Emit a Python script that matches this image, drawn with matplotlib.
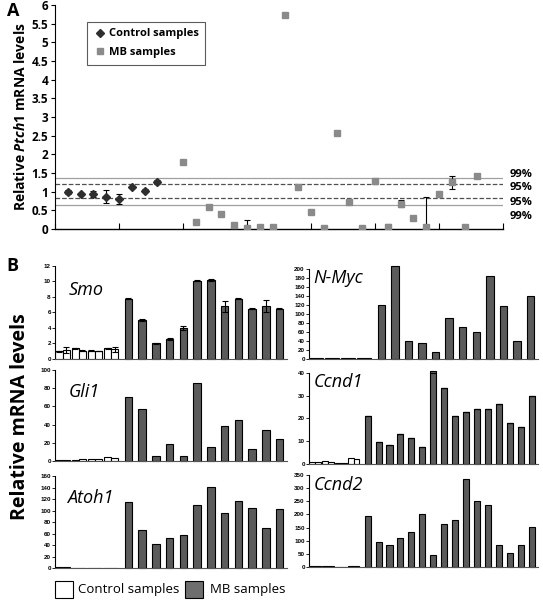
import numpy as np
import matplotlib.pyplot as plt
from matplotlib.lines import Line2D
from matplotlib.patches import Rectangle
import matplotlib.transforms as mtransforms

plt.rcParams['font.family'] = ['Open Sans', 'DejaVu Sans']
plt.rcParams['mathtext.fontset'] = 'custom'
plt.rcParams['mathtext.rm'] = 'Open Sans:bold'
plt.rcParams['mathtext.it'] = 'Open Sans:italic:bold'

# ---- panel A data (Ptch1) ----
ctrl_x = np.arange(1, 9)
ctrl_vals = [1.00, 0.94, 0.94, 0.87, 0.81, 1.13, 1.03, 1.26]
ctrl_err = [0.05, 0.03, 0.07, 0.18, 0.13, 0.03, 0.03, 0.05]

mb_x = np.arange(10, 34)
mb_vals = [1.80, 0.18, 0.60, 0.40, 0.10, 0.03, 0.05, 0.05, 5.74, 1.13, 0.46, 0.02,
           2.58, 0.72, 0.02, 1.28, 0.05, 0.68, 0.29, 0.05, 0.94, 1.25, 0.05, 1.42]
mb_err = [0.03, 0.02, 0.03, 0.03, 0.04, 0.20, 0.02, 0.02, 0.03, 0.02, 0.02, 0.07,
          0.03, 0.03, 0.07, 0.02, 0.08, 0.10, 0.02, 0.82, 0.02, 0.18, 0.02, 0.02]

ci_vals = [1.38, 1.21, 0.82, 0.64]
ci_labels = ['99%', '95%', '95%', '99%']

# ---- panel B data ----
genes = ['Smo', 'Gli1', 'Atoh1', 'N-Myc', 'Ccnd1', 'Ccnd2']
smo_ctrl = [1.0, 1.15, 1.38, 1.05, 1.05, 1.03, 1.38, 1.25]
smo_ctrl_err = [0.05, 0.4, 0.05, 0.05, 0.05, 0.05, 0.05, 0.3]
smo_mb = [7.8, 5.0, 2.0, 2.6, 4.0, 10.1, 10.2, 6.8, 7.8, 6.5, 6.8, 6.5]
smo_mb_err = [0.1, 0.1, 0.1, 0.1, 0.3, 0.05, 0.15, 0.7, 0.05, 0.05, 0.8, 0.05]
gli1_ctrl = [1.5, 0.8, 1.5, 1.8, 1.8, 1.8, 4.8, 3.3]
gli1_mb = [70, 57, 6, 19, 5, 86, 15, 38, 45, 13, 34, 24]
atoh1_ctrl = [1.2, 1.0, 0.5, 0.5, 0.5, 0.5, 0.6, 0.6]
atoh1_mb = [115, 66, 42, 52, 58, 110, 141, 95, 116, 104, 70, 103]
nmyc_ctrl = [2, 2, 1.5, 1.5, 1.5, 1.5, 2, 2]
nmyc_mb = [120, 206, 40, 35, 15, 92, 70, 60, 185, 118, 40, 140]
ccnd1_ctrl = [1.0, 0.8, 1.5, 0.8, 0.6, 0.6, 2.5, 2.0]
ccnd1_mb = [21, 9.7, 8.2, 13, 11.5, 7.3, 41, 33.3, 21, 23, 24.3, 24.3, 26.2, 18.2, 16.2, 29.7]
ccnd1_mb_err = [0, 0, 0, 0, 0, 0, 1.0, 0, 0, 0, 0, 0, 0, 0, 0, 0]
ccnd2_ctrl = [3, 3, 2, 2, 1, 1, 3, 3]
ccnd2_mb = [195, 97, 85, 112, 133, 200, 45, 162, 178, 335, 250, 237, 82, 55, 85, 152]

fig = plt.figure(figsize=(5.43, 6.0), dpi=100)

# ================= Panel A =================
axA = fig.add_axes([0.1013, 0.6183, 0.825, 0.3733])
axA.set_xlim(0, 35)
axA.set_ylim(0, 6)
ci_styles = ['-', '--', '--', '-']
ci_colors = ['#a0a0a0', '#505050', '#505050', '#a0a0a0']
for v, ls, c in zip(ci_vals, ci_styles, ci_colors):
    axA.axhline(v, color=c, linestyle=ls, linewidth=0.9, zorder=1)
trans = mtransforms.blended_transform_factory(axA.transAxes, axA.transData)
label_y = [1.45, 1.10, 0.70, 0.33]
for y, lab in zip(label_y, ci_labels):
    axA.text(1.015, y, lab, transform=trans, fontsize=8, fontweight='bold', va='center', ha='left')

axA.errorbar(ctrl_x, ctrl_vals, yerr=ctrl_err, fmt='D', color='#2f2f2f', ms=4,
             ecolor='black', elinewidth=0.8, capsize=2.5, capthick=0.8, zorder=3)
axA.errorbar(mb_x, mb_vals, yerr=mb_err, fmt='s', color='#8a8a8a', ms=4.5,
             ecolor='black', elinewidth=0.8, capsize=2.5, capthick=0.8, zorder=3)

axA.set_yticks(np.arange(0, 6.01, 0.5))
axA.set_yticklabels(['0', '0.5', '1', '1.5', '2', '2.5', '3', '3.5', '4', '4.5', '5', '5.5', '6'])
axA.set_xticks(np.arange(0, 36, 5))
axA.set_xticklabels([])
axA.tick_params(axis='y', labelsize=8.5, length=3, width=0.8, pad=2)
axA.tick_params(axis='x', direction='in', length=4, width=0.8)
for lab in axA.get_yticklabels():
    lab.set_fontweight('bold')
axA.spines[['top', 'right']].set_visible(False)
axA.spines['bottom'].set_linewidth(1.0)
axA.spines['left'].set_linewidth(0.8)

handles = [Line2D([], [], marker='D', color='#2f2f2f', ls='none', ms=4),
           Line2D([], [], marker='s', color='#8a8a8a', ls='none', ms=4.5)]
leg = axA.legend(handles, ['Control samples', 'MB samples'], loc='upper left',
                 bbox_to_anchor=(0.06, 0.95), frameon=True, fancybox=False,
                 edgecolor='#333333', prop={'weight': 'bold', 'size': 8},
                 handletextpad=0.3, handlelength=1.0, borderpad=0.6, labelspacing=0.7)
leg.get_frame().set_linewidth(0.8)

fig.text(0.038, 0.806, r'Relative $\mathit{Ptch1}$ mRNA levels', rotation=90,
         fontsize=10, fontweight='bold', ha='center', va='center')
fig.text(0.012, 0.997, 'A', fontsize=13, fontweight='bold', ha='left', va='top')

# ================= Panel B =================
def bar_panel(rect, gene, ctrl, mb, ymax, ystep, gx, gy, ctrl_err=None, mb_err=None):
    ax = fig.add_axes(rect)
    n = len(mb)
    k = np.arange(len(ctrl))
    cx = 0.55 + 1.18 * (k // 2) + np.where(k % 2 == 0, -0.26, 0.26)
    mx = 5.35 + np.arange(n)
    ekw = dict(elinewidth=0.8, capthick=0.8, ecolor='black')
    ax.bar(cx, ctrl, width=0.52, color='white', edgecolor='black', linewidth=0.8,
           yerr=ctrl_err, capsize=2, error_kw=ekw)
    ax.bar(mx, mb, width=0.55, color='#5b5b5b', edgecolor='black', linewidth=0.8,
           yerr=mb_err, capsize=2.5, error_kw=ekw, clip_on=False)
    ax.set_xlim(0, n + 4.9)
    ax.set_ylim(0, ymax)
    ax.set_yticks(np.arange(0, ymax + 0.1, ystep))
    ax.set_xticks([])
    ax.tick_params(axis='y', labelsize=4.5, length=2, width=0.6, pad=1)
    for lab in ax.get_yticklabels():
        lab.set_fontweight('bold')
        lab.set_family('Liberation Sans')
    ax.spines[['top', 'right']].set_visible(False)
    ax.spines['bottom'].set_color('#555555')
    ax.spines['left'].set_linewidth(0.8)
    ax.text(gx, gy, gene, transform=ax.transAxes, fontsize=13, fontstyle='italic',
            ha='left', va='center')
    return ax

bar_panel([0.1013, 0.4017, 0.4273, 0.155], genes[0], smo_ctrl, smo_mb, 12, 2, 0.06, 0.74,
          ctrl_err=smo_ctrl_err, mb_err=smo_mb_err)
bar_panel([0.1013, 0.2317, 0.4273, 0.1517], genes[1], gli1_ctrl, gli1_mb, 100, 20, 0.06, 0.76)
bar_panel([0.1013, 0.0533, 0.4273, 0.1533], genes[2], atoh1_ctrl, atoh1_mb, 160, 20, 0.05, 0.76)
bar_panel([0.569, 0.4017, 0.4217, 0.15], genes[3], nmyc_ctrl, nmyc_mb, 200, 20, 0.02, 0.90)
bar_panel([0.569, 0.2267, 0.4217, 0.1517], genes[4], ccnd1_ctrl, ccnd1_mb, 40, 10, 0.02, 0.90,
          mb_err=ccnd1_mb_err)
bar_panel([0.569, 0.055, 0.4217, 0.1533], genes[5], ccnd2_ctrl, ccnd2_mb, 350, 50, 0.02, 0.89)

fig.text(0.012, 0.572, 'B', fontsize=13, fontweight='bold', ha='left', va='top')
fig.text(0.037, 0.305, 'Relative mRNA levels', rotation=90, fontsize=14,
         fontweight='bold', ha='center', va='center')

# bottom legend
fig.patches.append(Rectangle((0.101, 0.003), 0.033, 0.028, transform=fig.transFigure,
                             facecolor='white', edgecolor='black', linewidth=0.8))
fig.text(0.144, 0.017, 'Control samples', fontsize=9.5, ha='left', va='center')
fig.patches.append(Rectangle((0.341, 0.003), 0.033, 0.028, transform=fig.transFigure,
                             facecolor='#6e6e6e', edgecolor='black', linewidth=0.8))
fig.text(0.387, 0.017, 'MB samples', fontsize=9.5, ha='left', va='center')

fig.savefig('out.png', dpi=100)
